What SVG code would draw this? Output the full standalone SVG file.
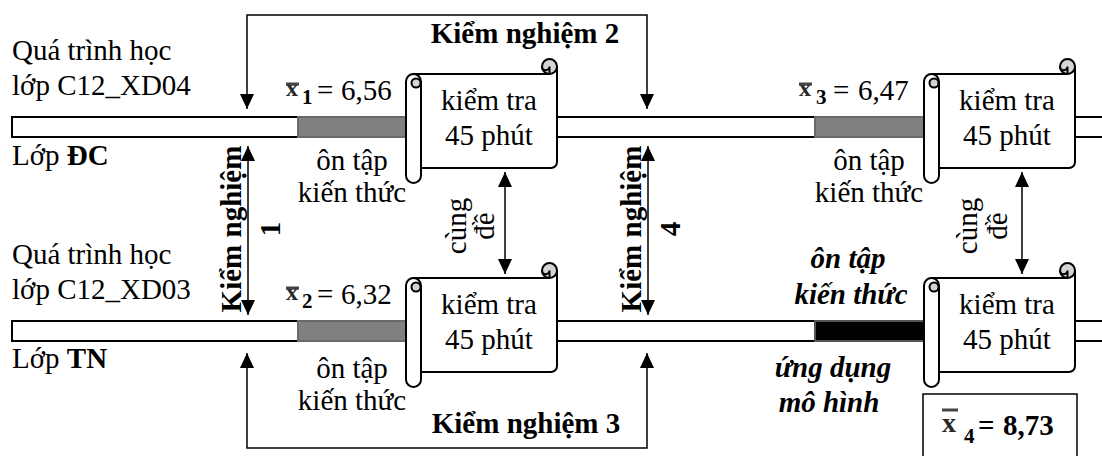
<svg xmlns="http://www.w3.org/2000/svg" xmlns:xlink="http://www.w3.org/1999/xlink" width="1102" height="456" viewBox="0 0 1102 456">
<style>
.t{font-family:"Liberation Serif","Times New Roman",serif;font-size:29px;fill:#000}
.b{font-weight:bold}
.bi{font-weight:bold;font-style:italic}
.m{text-anchor:middle}
.xb{font-family:"Liberation Serif","Times New Roman",serif;font-weight:bold;fill:#2a2a2a}
.sub{font-family:"Liberation Serif","Times New Roman",serif;font-weight:bold;font-size:21px;fill:#000}
.ov{stroke:#444;stroke-width:3}
.bar{fill:#fff;stroke:#000;stroke-width:2}
.gray{fill:#808080;stroke:#6a6a6a;stroke-width:2}
.blk{fill:#000;stroke:#555;stroke-width:2}
.sc{fill:#fff;stroke:#000;stroke-width:2;stroke-linejoin:round}
.curl{fill:#d4d4d4;stroke:#000;stroke-width:2}
.ln{fill:none;stroke:#000;stroke-width:1.5}
</style>
<defs>
<marker id="ah" markerUnits="userSpaceOnUse" markerWidth="16" markerHeight="14" refX="15" refY="7" orient="auto-start-reverse">
<path d="M0,0 L15,7 L0,14 Z" fill="#000"/>
</marker>
<g id="scroll">
<path class="sc" d="M7.5,15 H143.5 V7.5 H151 V103 A6 6 0 0 1 145,109 H7.5 Z"/>
<circle class="curl" cx="143.5" cy="7.5" r="7.5"/>
<path class="ln" style="stroke-width:2" d="M143.5,7.5 V15 M143.5,7.5 A3.75 3.75 0 0 1 136,7.5"/>
<path class="sc" d="M0,22.5 A7.5 7.5 0 0 1 15,22.5 V116.5 A7.5 7.5 0 0 1 0,116.5 Z"/>
<circle class="curl" cx="10" cy="24" r="4.5"/>
</g>
</defs>
<rect width="1102" height="456" fill="#fff"/>

<g id="bar-dc">
<rect class="bar" x="12" y="117" width="286" height="20"/>
<rect class="gray" x="298" y="117" width="112" height="20"/>
<rect class="bar" x="550" y="117" width="265" height="20"/>
<rect class="gray" x="815" y="117" width="115" height="20"/>
<rect class="bar" x="1070" y="117" width="40" height="20"/>
</g>
<g id="bar-tn">
<rect class="bar" x="12" y="321" width="286" height="20"/>
<rect class="gray" x="298" y="321" width="112" height="20"/>
<rect class="bar" x="550" y="321" width="265" height="20"/>
<rect class="blk" x="815" y="321" width="115" height="20"/>
<rect class="bar" x="1070" y="321" width="40" height="20"/>
</g>

<g id="label-dc">
<text class="t" x="12" y="60">Quá trình học</text>
<text class="t" x="12" y="95">lớp C12_XD04</text>
<text class="t" x="12" y="165">Lớp <tspan class="b">ĐC</tspan></text>
</g>
<g id="label-tn">
<text class="t" x="12" y="264">Quá trình học</text>
<text class="t" x="12" y="299">lớp C12_XD03</text>
<text class="t" x="12" y="368">Lớp <tspan class="b">TN</tspan></text>
</g>

<g id="review-dc-1">
<text class="t m" x="352" y="170">ôn tập</text>
<text class="t m" x="352" y="202">kiến thức</text>
</g>
<g id="review-dc-2">
<text class="t m" x="869" y="170">ôn tập</text>
<text class="t m" x="869" y="202">kiến thức</text>
</g>
<g id="review-tn-1">
<text class="t m" x="352" y="378">ôn tập</text>
<text class="t m" x="352" y="410">kiến thức</text>
</g>
<g id="review-tn-2">
<text class="t m bi" x="848" y="268">ôn tập</text>
<text class="t m bi" x="851" y="304">kiến thức</text>
<text class="t m bi" x="833" y="377">ứng dụng</text>
<text class="t m bi" x="829" y="412">mô hình</text>
</g>

<g id="mean-1">
<text class="xb" x="286" y="96" font-size="24">x</text>
<line class="ov" x1="286" y1="84" x2="299" y2="84"/>
<text class="sub" x="302" y="104">1</text>
<text class="t" x="317" y="100">=</text>
<text class="t" x="341" y="100">6,56</text>
</g>
<g id="mean-2">
<text class="xb" x="286" y="300" font-size="24">x</text>
<line class="ov" x1="286" y1="288" x2="299" y2="288"/>
<text class="sub" x="302" y="308">2</text>
<text class="t" x="317" y="304">=</text>
<text class="t" x="341" y="304">6,32</text>
</g>
<g id="mean-3">
<text class="xb" x="799" y="96" font-size="24">x</text>
<line class="ov" x1="799" y1="84" x2="812" y2="84"/>
<text class="sub" x="816" y="104">3</text>
<text class="t" x="833" y="100">=</text>
<text class="t" x="858" y="100">6,47</text>
</g>

<g id="test-1">
<use xlink:href="#scroll" x="406" y="59"/>
<text class="t m" x="489" y="110">kiểm tra</text>
<text class="t m" x="489" y="145">45 phút</text>
</g>
<g id="test-2">
<use xlink:href="#scroll" x="406" y="263"/>
<text class="t m" x="489" y="314">kiểm tra</text>
<text class="t m" x="489" y="349">45 phút</text>
</g>
<g id="test-3">
<use xlink:href="#scroll" x="924" y="59"/>
<text class="t m" x="1007" y="110">kiểm tra</text>
<text class="t m" x="1007" y="145">45 phút</text>
</g>
<g id="test-4">
<use xlink:href="#scroll" x="924" y="263"/>
<text class="t m" x="1007" y="314">kiểm tra</text>
<text class="t m" x="1007" y="349">45 phút</text>
</g>

<g id="mean-4">
<rect x="923" y="394" width="154" height="70" fill="#fff" stroke="#000" stroke-width="1.5"/>
<text class="xb" x="942" y="432" font-size="28">x</text>
<line class="ov" x1="942" y1="410" x2="958" y2="410"/>
<text class="sub" x="964" y="443">4</text>
<text class="t b" x="978" y="435">=</text>
<text class="t b" x="1003" y="435">8,73</text>
</g>

<g id="connectors">
<path class="ln" d="M247,109 V15 H647 V109" marker-start="url(#ah)" marker-end="url(#ah)"/>
<path class="ln" d="M247,353 V448 H647 V353" marker-start="url(#ah)" marker-end="url(#ah)"/>
<path class="ln" d="M248,146 V315" marker-start="url(#ah)" marker-end="url(#ah)"/>
<path class="ln" d="M648,146 V315" marker-start="url(#ah)" marker-end="url(#ah)"/>
<path class="ln" d="M505,172 V274" marker-start="url(#ah)" marker-end="url(#ah)"/>
<path class="ln" d="M1022,172 V274" marker-start="url(#ah)" marker-end="url(#ah)"/>
</g>

<g id="connector-labels">
<text class="t b m" x="525" y="43">Kiểm nghiệm 2</text>
<text class="t b m" x="526" y="433">Kiểm nghiệm 3</text>
<g transform="translate(241,229) rotate(-90)">
<text class="t b m" x="0" y="0">Kiểm nghiệm</text>
<text class="t b m" x="0" y="39">1</text>
</g>
<g transform="translate(641,229) rotate(-90)">
<text class="t b m" x="0" y="0">Kiểm nghiệm</text>
<text class="t b m" x="0" y="39">4</text>
</g>
<g transform="translate(466,226) rotate(-90)">
<text class="t m" x="0" y="0">cùng</text>
<text class="t m" x="0" y="28">đề</text>
</g>
<g transform="translate(977,226) rotate(-90)">
<text class="t m" x="0" y="0">cùng</text>
<text class="t m" x="0" y="30">đề</text>
</g>
</g>
</svg>
